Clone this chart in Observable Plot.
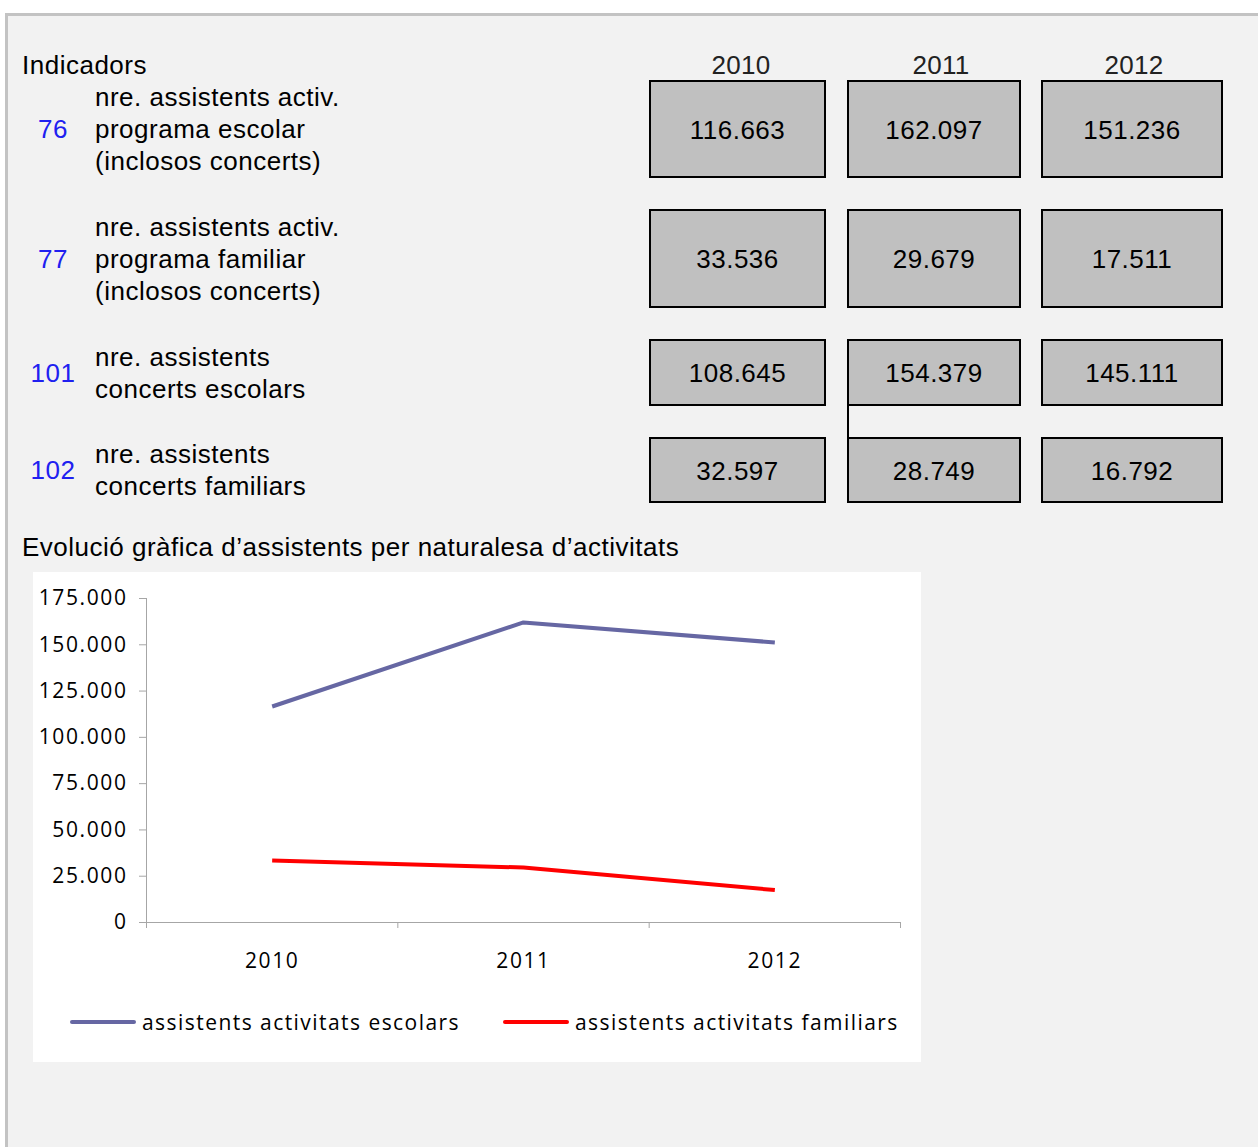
<!DOCTYPE html>
<html>
<head>
<meta charset="utf-8">
<script src="https://cdn.jsdelivr.net/npm/d3@7"></script>
<script src="https://cdn.jsdelivr.net/npm/@observablehq/plot@0.6"></script>
<style>
  html, body { margin: 0; padding: 0; background: #ffffff; }
  #page { position: relative; width: 1258px; height: 1147px; overflow: hidden; font-family: "Liberation Sans", Arial, sans-serif; letter-spacing: 0.5px; }
  #panel { position: absolute; left: 5px; top: 13px; width: 1260px; height: 1140px; background: #f2f2f2; border-top: 3px solid #c3c3c3; border-left: 3px solid #c3c3c3; }
  .abs { position: absolute; white-space: nowrap; }
  .hdr { font-size: 26px; color: #000; }
  .year { font-size: 26px; color: #222; text-align: center; width: 180px; letter-spacing: 0.3px; }
  .code { font-size: 26px; color: #2020f0; text-align: center; width: 60px; }
  .label { font-size: 26px; color: #000; line-height: 32px; }
  .box { position: absolute; box-sizing: border-box; background: #c0c0c0; border: 2px solid #000; display: flex; align-items: center; justify-content: center; font-size: 26px; color: #000; padding-top: 2px; }
  #chartbox { position: absolute; left: 33px; top: 572px; width: 888px; height: 490px; background: #ffffff; }
  .leg { position: absolute; font-family: "Open Sans", sans-serif; font-size: 21px; letter-spacing: 1.45px; color: #000; white-space: nowrap; }
  .legline { position: absolute; height: 4px; border-radius: 2px; }
</style>
</head>
<body>
<div id="page">
  <div id="panel"></div>
  <div id="chartbox"></div>
</div>
<script>
// ---- data ----
const years = ["2010", "2011", "2012"];
const indicatorCodes = ["76", "77", "101", "102"];
const indicatorLabels = [
  ["nre. assistents activ.", "programa escolar", "(inclosos concerts)"],
  ["nre. assistents activ.", "programa familiar", "(inclosos concerts)"],
  ["nre. assistents", "concerts escolars"],
  ["nre. assistents", "concerts familiars"]
];
const assistentsEscolars = [116663, 162097, 151236];
const assistentsFamiliars = [33536, 29679, 17511];
const concertsEscolars = [108645, 154379, 145111];
const concertsFamiliars = [32597, 28749, 16792];
const tableValues = [assistentsEscolars, assistentsFamiliars, concertsEscolars, concertsFamiliars];
const seriesNames = ["assistents activitats escolars", "assistents activitats familiars"];
const seriesColors = ["#6667a3", "#ff0000"];
const yTicks = [0, 25000, 50000, 75000, 100000, 125000, 150000, 175000];
const headerTitle = "Indicadors";
const chartTitle = "Evolució gràfica d’assistents per naturalesa d’activitats";

// ---- formatting ----
const fmt = d => d3.format(",")(d).replace(/,/g, ".");

// ---- table (layout) ----
const page = document.getElementById("page");
function add(cls, text, style) {
  const el = document.createElement("div");
  el.className = cls;
  el.textContent = text;
  Object.assign(el.style, style);
  page.appendChild(el);
  return el;
}
add("abs hdr", headerTitle, {left: "22px", top: "50px"});
const colLeft = [649, 847, 1041];
const colWidth = [177, 174, 182];
const rowTop = [80, 209, 339, 437];
const rowHeight = [98, 99, 67, 66];
const yearCenters = [741, 941, 1134];
years.forEach((y, j) => add("abs year", y, {left: (yearCenters[j] - 90) + "px", top: "50px"}));
indicatorLabels.forEach((lines, r) => {
  const mid = rowTop[r] + rowHeight[r] / 2;
  add("abs code", indicatorCodes[r], {left: (53 - 30) + "px", top: (mid - 15) + "px"});
  const lab = add("abs label", "", {left: "95px", top: (mid - lines.length * 16) + "px"});
  lab.innerHTML = lines.map(s => s.replace(/&/g, "&amp;")).join("<br>");
  tableValues[r].forEach((v, j) => {
    add("box", fmt(v), {
      left: colLeft[j] + "px", top: rowTop[r] + "px",
      width: colWidth[j] + "px", height: rowHeight[r] + "px"
    });
  });
});
// connector line between rows 3 and 4 (2011 column)
add("abs", "", {left: "847px", top: (rowTop[2] + rowHeight[2]) + "px", width: "2px",
  height: (rowTop[3] - rowTop[2] - rowHeight[2]) + "px", background: "#000"});

add("abs hdr", chartTitle, {left: "22px", top: "532px"});

// ---- chart ----
const chartData = [];
years.forEach((y, i) => {
  chartData.push({year: y, i, serie: seriesNames[0], value: assistentsEscolars[i]});
  chartData.push({year: y, i, serie: seriesNames[1], value: assistentsFamiliars[i]});
});

const chart = Plot.plot({
  width: 888,
  height: 410,
  marginLeft: 113,
  marginRight: 21,
  marginTop: 26,
  marginBottom: 60,
  style: {background: "white", fontFamily: "'Open Sans', sans-serif", fontSize: "21px", color: "#000", letterSpacing: "1.6px"},
  x: {domain: [0, years.length], axis: null},
  y: {domain: [0, 175000], axis: null},
  color: {domain: seriesNames, range: seriesColors},
  marks: [
    Plot.axisY({ticks: yTicks, tickSize: 7, tickPadding: 12, tickFormat: fmt, stroke: "#a6a6a6", fill: "#000", label: null}),
    Plot.axisX({ticks: d3.range(0, years.length + 1), tickSize: 6, tickFormat: () => "", stroke: "#a6a6a6", label: null}),
    Plot.ruleX([0], {stroke: "#a6a6a6"}),
    Plot.ruleY([0], {stroke: "#a6a6a6"}),
    Plot.text(years, {x: (d, i) => i + 0.5, y: () => 0, dy: 39, text: d => d, fill: "#000"}),
    Plot.line(chartData, {x: d => d.i + 0.5, y: "value", z: "serie", stroke: "serie", strokeWidth: 4, strokeLinecap: "butt"})
  ]
});
const cb = document.getElementById("chartbox");
chart.style.position = "absolute";
chart.style.left = "0px";
chart.style.top = "0px";
cb.appendChild(chart);

// legend
const legLeft = [37, 470];
seriesNames.forEach((s, k) => {
  const ln = document.createElement("div");
  ln.className = "legline";
  Object.assign(ln.style, {left: legLeft[k] + "px", top: (1022 - 572 - 2) + "px", width: "66px", background: seriesColors[k]});
  cb.appendChild(ln);
  const t = document.createElement("div");
  t.className = "leg";
  t.textContent = s;
  Object.assign(t.style, {left: (legLeft[k] + 72) + "px", top: (1022 - 572 - 14) + "px"});
  cb.appendChild(t);
});
</script>
</body>
</html>
